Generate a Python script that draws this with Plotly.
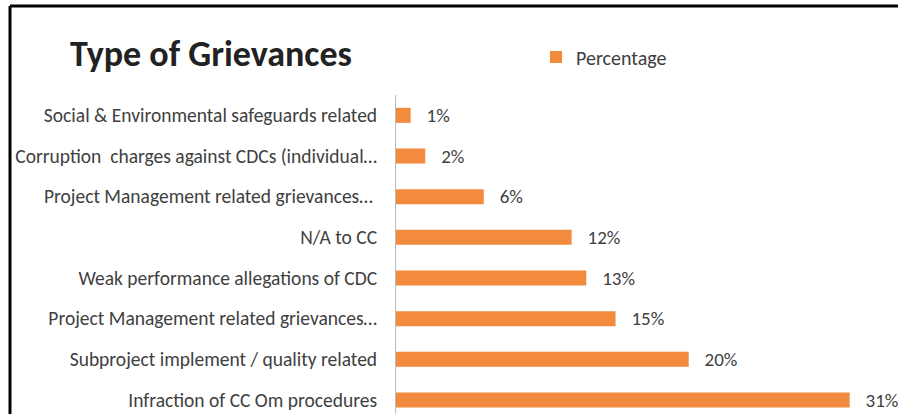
import plotly.graph_objects as go

# Data (bottom to top order on the chart)
categories = [
    "Infraction of CC Om procedures",
    "Subproject implement / quality related",
    "Project Management related grievances\u2026",
    "Weak performance allegations of CDC",
    "N/A to CC",
    "Project Management related grievances\u2026 ",
    "Corruption\u00a0 charges against CDCs (individual\u2026",
    "Social & Environmental safeguards related",
]
percentages = [31, 20, 15, 13, 12, 6, 2, 1]
labels = [f"{v}%" for v in percentages]

W, H = 898, 414
ORANGE = "#F28B3D"
FONT = "Carlito, Calibri, sans-serif"

ml, mr, mt, mb = 396, 0, 95, 0

fig = go.Figure(
    go.Bar(
        x=percentages,
        y=categories,
        orientation="h",
        name="Percentage",
        marker=dict(color=ORANGE, line=dict(width=0)),
        text=labels,
        texttemplate="\u00a0\u00a0\u00a0%{text}",
        textposition="outside",
        constraintext="none",
        textfont=dict(family=FONT, size=19, color="#404040"),
        cliponaxis=False,
        showlegend=True,
    )
)

plot_h = H - mt - mb
plot_w = W - ml - mr

fig.update_layout(
    width=W,
    height=H,
    margin=dict(l=ml, r=mr, t=mt, b=mb, autoexpand=False),
    paper_bgcolor="white",
    plot_bgcolor="white",
    bargap=0.63,
    font=dict(family=FONT, color="#404040"),
    title=dict(
        text="<b>Type of Grievances</b>",
        font=dict(family=FONT, size=36, color="#222222"),
        x=70 / W,
        xanchor="left",
        xref="container",
        y=1 - 53 / H,
        yanchor="middle",
        yref="container",
    ),
    legend=dict(
        orientation="h",
        xref="container",
        yref="container",
        x=536 / W,
        xanchor="left",
        y=1 - 57 / H,
        yanchor="middle",
        font=dict(family=FONT, size=20, color="#404040"),
        bgcolor="rgba(0,0,0,0)",
    ),
    xaxis=dict(
        range=[0, 34.3],
        visible=False,
        showgrid=False,
        zeroline=False,
        automargin=False,
    ),
    yaxis=dict(
        type="category",
        categoryorder="array",
        categoryarray=categories,
        range=[-0.344, 7.5],
        showline=True,
        linecolor="#BFBFBF",
        linewidth=1,
        showgrid=False,
        ticks="",
        automargin=False,
        ticklabelstandoff=14,
        tickfont=dict(family=FONT, size=19.5, color="#404040"),
    ),
    shapes=[
        # outer frame (top and left edges visible in the crop)
        dict(type="line", xref="paper", yref="paper",
             x0=(10 - ml) / plot_w, x1=(W + 5 - ml) / plot_w,
             y0=(H - 6 - mb) / plot_h, y1=(H - 6 - mb) / plot_h,
             line=dict(color="black", width=3)),
        dict(type="line", xref="paper", yref="paper",
             x0=(10 - ml) / plot_w, x1=(10 - ml) / plot_w,
             y0=(H - 6 - mb) / plot_h, y1=-0.1,
             line=dict(color="black", width=3)),
    ],
)

fig.write_html("out.html")
